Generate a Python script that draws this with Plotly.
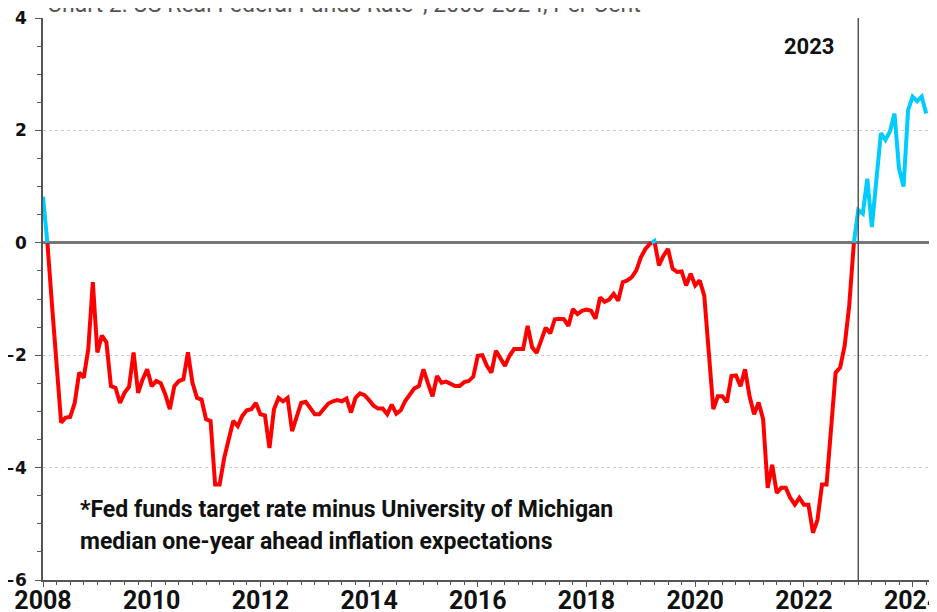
import plotly.graph_objects as go

# ---- data: monthly real fed funds rate, Jan 2008 .. Apr 2024 ----
start_year = 2008
rate_2008_2010 = [0.82, -0.03, -1.12, -2.13, -3.20, -3.11, -3.10, -2.85, -2.31, -2.40, -1.89, -0.70,
                  -1.95, -1.65, -1.77, -2.55, -2.58, -2.85, -2.67, -2.56, -1.95, -2.67, -2.43, -2.25,
                  -2.55, -2.46, -2.50, -2.70, -2.96, -2.55, -2.46, -2.43, -1.95]
rate_2010_2013 = [-2.49, -2.76, -2.79, -3.14, -3.17, -4.30, -4.30, -3.83, -3.50, -3.17, -3.26, -3.08,
                  -2.98, -2.96, -2.85, -3.05, -3.07, -3.65, -2.96, -2.76, -2.82, -2.76, -3.35, -3.08,
                  -2.85, -2.83, -2.93, -3.05, -3.05, -2.96, -2.86, -2.82]
rate_2013_2016 = [-2.80, -2.82, -2.77, -3.02, -2.76, -2.68, -2.71, -2.80, -2.90, -2.95, -2.95, -3.05,
                  -2.88, -3.04, -2.98, -2.81, -2.70, -2.59, -2.55, -2.25, -2.50, -2.73, -2.37, -2.49,
                  -2.47, -2.52, -2.55, -2.55, -2.48, -2.46, -2.38, -2.01]
rate_2016_2018 = [-2.00, -2.19, -2.31, -1.92, -2.04, -2.19, -2.01, -1.89, -1.89, -1.89, -1.48, -1.86,
                  -1.96, -1.71, -1.51, -1.61, -1.36, -1.35, -1.36, -1.48, -1.18, -1.27, -1.21, -1.19,
                  -1.21, -1.35, -0.97, -1.05, -1.01, -0.91, -1.03, -0.70]
rate_2018_2021 = [-0.67, -0.61, -0.49, -0.26, -0.11, -0.02, 0.03, -0.40, -0.23, -0.11, -0.46, -0.52,
                  -0.51, -0.76, -0.55, -0.76, -0.67, -0.94, -1.95, -2.96, -2.73, -2.73, -2.84, -2.37,
                  -2.36, -2.55, -2.25, -2.73, -3.05, -2.84, -3.14, -4.36]
rate_2021_2022 = [-3.95, -4.45, -4.36, -4.36, -4.54, -4.66, -4.54, -4.66, -4.66, -5.16, -4.93, -4.30,
                  -4.30, -3.32, -2.31, -2.22, -1.83, -1.12, -0.02]
rate_2023_2024 = [0.58, 0.52, 1.14, 0.28, 1.05, 1.95, 1.83, 1.98, 2.30, 1.32, 1.00, 2.36,
                  2.60, 2.52, 2.60, 2.30]

rates = (rate_2008_2010 + rate_2010_2013 + rate_2013_2016 + rate_2016_2018 +
         rate_2018_2021 + rate_2021_2022 + rate_2023_2024)
years = [start_year + i / 12 for i in range(len(rates))]

marker_year = 2023
title_text = "Chart 2: US Real Federal Funds Rate*, 2008-2024, Per Cent"
note_line1 = "*Fed funds target rate minus University of Michigan"
note_line2 = "median one-year ahead inflation expectations"

POS_COLOR = "#00CCFF"
NEG_COLOR = "#FF0000"


def split_by_sign(xs, ys):
    runs = {True: [], False: []}
    cur_sign = ys[0] > 0
    cur = [(xs[0], ys[0])]
    for i in range(len(xs) - 1):
        x0, y0, x1, y1 = xs[i], ys[i], xs[i + 1], ys[i + 1]
        s1 = y1 > 0
        if s1 != cur_sign:
            xc = x0 + (0 - y0) * (x1 - x0) / (y1 - y0) if y1 != y0 else x0
            cur.append((xc, 0.0))
            runs[cur_sign].append(cur)
            cur = [(xc, 0.0)]
            cur_sign = s1
        cur.append((x1, y1))
    runs[cur_sign].append(cur)
    out = {}
    for k, rl in runs.items():
        px, py = [], []
        for r in rl:
            for (a, b) in r:
                px.append(a)
                py.append(b)
            px.append(None)
            py.append(None)
        out[k] = (px, py)
    return out


parts = split_by_sign(years, rates)

fig = go.Figure()
fig.add_trace(go.Scatter(x=parts[False][0], y=parts[False][1], mode="lines",
                         line=dict(color=NEG_COLOR, width=4), hoverinfo="skip"))
fig.add_trace(go.Scatter(x=parts[True][0], y=parts[True][1], mode="lines",
                         line=dict(color=POS_COLOR, width=4), hoverinfo="skip"))

fig.add_shape(type="line", x0=marker_year, x1=marker_year, xref="x", y0=0, y1=1, yref="paper",
              line=dict(color="#555555", width=1.5), layer="above")

xtickfont = dict(family="Liberation Sans Narrow, Roboto", size=25, color="#111111", weight="bold")
ytickfont = dict(family="DejaVu Sans", size=17, color="#111111", weight="bold")

# page body has an 8px margin, so the figure is sized/offset to compensate
fig.update_layout(
    width=929, height=604,
    margin=dict(l=35, r=7, t=10, b=32),
    plot_bgcolor="white", paper_bgcolor="white",
    showlegend=False,
    font=dict(family="Roboto"),
    xaxis=dict(range=[2008, 2024.32], tickmode="linear", tick0=2008, dtick=2,
               automargin=False, ticklabeloverflow="allow", ticklabelstandoff=-8,
               ticks="outside", ticklen=5, tickwidth=1, tickcolor="#555555",
               showline=True, linecolor="#555555", linewidth=1.5,
               showgrid=False, zeroline=False, tickfont=xtickfont,
               minor=dict(dtick=0.25, ticks="outside", ticklen=3, tickcolor="#555555", showgrid=False)),
    yaxis=dict(range=[-6, 4], tickmode="linear", tick0=-6, dtick=2,
               automargin=False, ticklabeloverflow="allow",
               ticks="outside", ticklen=6, tickwidth=1, tickcolor="#555555",
               ticklabelstandoff=5,
               showline=True, linecolor="#555555", linewidth=1.5,
               showgrid=True, gridcolor="#cccccc", griddash="dot", gridwidth=1,
               zeroline=True, zerolinecolor="#777777", zerolinewidth=2.5,
               tickfont=ytickfont,
               minor=dict(dtick=0.5, ticks="outside", ticklen=4, tickcolor="#555555", showgrid=False)),
)

fig.add_annotation(text=title_text, xref="paper", yref="paper", x=0.002, y=0.996,
                   xanchor="left", yanchor="bottom", showarrow=False,
                   font=dict(family="Roboto", size=23, color="#555555"))
fig.add_annotation(text="2023", xref="x", yref="y", x=marker_year, y=3.5,
                   xanchor="right", yanchor="middle", xshift=-21, showarrow=False,
                   font=dict(family="Roboto", size=22, color="#111111", weight="bold"))
fig.add_annotation(text=note_line1, xref="paper", yref="y", x=0.040, y=-4.75,
                   xanchor="left", yanchor="middle", showarrow=False,
                   font=dict(family="Roboto", size=23, color="#111111", weight="bold"))
fig.add_annotation(text=note_line2, xref="paper", yref="y", x=0.040, y=-5.32,
                   xanchor="left", yanchor="middle", showarrow=False,
                   font=dict(family="Roboto", size=23, color="#111111", weight="bold"))

fig.write_html("out.html")
